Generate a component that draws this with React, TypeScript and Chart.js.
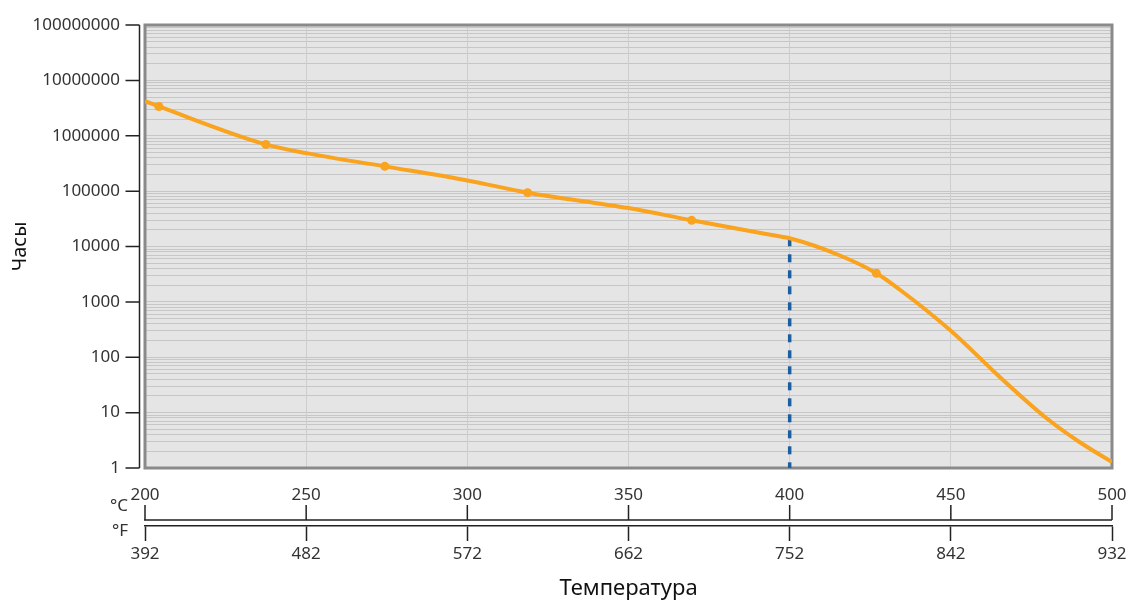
import React, { useEffect, useRef } from 'react';
import { Chart, registerables } from 'chart.js';

Chart.register(...registerables);

// ---- data ----
const curveTempsC = [200, 204.3, 237.5, 250, 274.4, 300, 318.7, 350, 369.6, 391, 400, 415.4, 426.9, 434, 450, 465, 479.6, 489.9, 500];
const curveHours = [4200000, 3380000, 697000, 485000, 280000, 156000, 93800, 49400, 29700, 17500, 14060, 6950, 3290, 1690, 300, 45, 8, 2.95, 1.28];
const markerTempsC = [204.3, 237.5, 274.4, 318.7, 369.6, 426.9];
const markerHours = [3380000, 697000, 280000, 93800, 29700, 3290];
const limitTempC = [400, 400];
const limitHours = [14060, 1];
const celsiusTicks = [200, 250, 300, 350, 400, 450, 500];
const fahrenheitTicks = [392, 482, 572, 662, 752, 842, 932];
const hourDecades = [1, 10, 100, 1000, 10000, 100000, 1000000, 10000000, 100000000];
const yTitle = 'Часы';
const xTitle = 'Температура';
const unitC = '°C';
const unitF = '°F';

const ORANGE = '#f9a31f';
const BLUE = '#1d5e9e';
const FONT = "'Noto Sans', sans-serif";

export default function App() {
  const ref = useRef<HTMLCanvasElement>(null);

  useEffect(() => {
    document.body.style.margin = '0';
    const canvas = ref.current;
    if (!canvas) return;

    const minorValues: number[] = [];
    for (let i = 0; i < hourDecades.length - 1; i++) {
      for (let m = 1; m <= 9; m++) minorValues.push(m * hourDecades[i]);
    }
    minorValues.push(hourDecades[hourDecades.length - 1]);

    const decor = {
      id: 'decor',
      beforeDraw(chart: any) {
        const { ctx, chartArea: a } = chart;
        ctx.save();
        ctx.fillStyle = '#e5e5e5';
        ctx.fillRect(a.left, a.top, a.right - a.left, a.bottom - a.top);
        ctx.restore();
      },
      beforeDatasetsDraw(chart: any) {
        const { ctx, chartArea: a } = chart;
        ctx.save();
        ctx.strokeStyle = '#8a8a8a';
        ctx.lineWidth = 3;
        ctx.strokeRect(a.left, a.top, a.right - a.left, a.bottom - a.top);
        ctx.restore();
      },
      afterDraw(chart: any) {
        const { ctx, chartArea: a, scales } = chart;
        const ys = scales.y;
        const xs = scales.x;
        ctx.save();
        ctx.strokeStyle = '#222';
        ctx.lineWidth = 1.5;
        // y axis line with decade ticks
        const axX = a.left - 5.5;
        ctx.beginPath();
        ctx.moveTo(axX, ys.getPixelForValue(hourDecades[hourDecades.length - 1]));
        ctx.lineTo(axX, ys.getPixelForValue(hourDecades[0]));
        hourDecades.forEach((v) => {
          const py = ys.getPixelForValue(v);
          ctx.moveTo(axX - 14, py);
          ctx.lineTo(axX, py);
        });
        ctx.stroke();
        // celsius axis line with upward ticks
        const cy = xs.bottom - 6;
        ctx.beginPath();
        ctx.moveTo(a.left - 1, cy);
        ctx.lineTo(a.right, cy);
        celsiusTicks.forEach((v) => {
          const px = xs.getPixelForValue(v);
          ctx.moveTo(px, cy);
          ctx.lineTo(px, cy - 15);
        });
        ctx.stroke();
        // unit labels
        ctx.fillStyle = '#333';
        ctx.font = `17px ${FONT}`;
        ctx.textAlign = 'right';
        ctx.textBaseline = 'middle';
        ctx.fillText(unitC, a.left - 17, cy - 14);
        ctx.fillText(unitF, a.left - 17, cy + 11);
        ctx.restore();
      },
    };

    const noSidePad = (s: any) => {
      s.paddingLeft = 0;
      s.paddingRight = 0;
    };

    const chart = new Chart(canvas, {
      type: 'line',
      data: {
        datasets: [
          {
            label: 'markers',
            data: markerTempsC.map((t, i) => ({ x: t, y: markerHours[i] })),
            showLine: false,
            pointRadius: 4.5,
            pointBackgroundColor: ORANGE,
            pointBorderWidth: 0,
            borderColor: ORANGE,
            order: 0,
          },
          {
            label: 'curve',
            data: curveTempsC.map((t, i) => ({ x: t, y: curveHours[i] })),
            borderColor: ORANGE,
            borderWidth: 4,
            pointRadius: 0,
            cubicInterpolationMode: 'monotone',
            order: 1,
          },
          {
            label: 'limit',
            data: limitTempC.map((t, i) => ({ x: t, y: limitHours[i] })),
            borderColor: BLUE,
            borderWidth: 3.5,
            borderDash: [8, 8],
            pointRadius: 0,
            order: 2,
          },
        ],
      },
      options: {
        responsive: false,
        animation: false,
        layout: { padding: { top: 25, right: 14, bottom: 0, left: 0 } },
        plugins: {
          legend: { display: false },
          tooltip: { enabled: false },
        },
        scales: {
          y: {
            type: 'logarithmic',
            position: 'left',
            min: 1,
            max: 100000000,
            afterBuildTicks: (s: any) => {
              s.ticks = minorValues.map((v) => ({ value: v }));
            },
            afterFit: (s: any) => {
              s.width = 145;
              s.paddingTop = 0;
              s.paddingBottom = 0;
            },
            ticks: {
              autoSkip: false,
              padding: 7,
              color: '#333',
              font: { family: FONT, size: 17 },
              callback: (v: any) => (hourDecades.includes(Number(v)) ? String(v) : ''),
            },
            grid: {
              color: '#c6c6c6',
              lineWidth: 1,
              drawTicks: true,
              tickLength: 18,
              tickColor: 'rgba(0,0,0,0)',
            },
            border: { display: false },
            title: {
              display: true,
              text: yTitle,
              color: '#111',
              font: { family: FONT, size: 20 },
              padding: { top: 8, bottom: 0 },
            },
          },
          x: {
            type: 'linear',
            position: 'bottom',
            weight: 0,
            min: 200,
            max: 500,
            afterBuildTicks: (s: any) => {
              s.ticks = celsiusTicks.map((v) => ({ value: v }));
            },
            afterFit: (s: any) => {
              s.height = 58;
              noSidePad(s);
            },
            ticks: {
              autoSkip: false,
              maxRotation: 0,
              padding: 17,
              color: '#333',
              font: { family: FONT, size: 17 },
            },
            grid: { color: '#cdcdcd', lineWidth: 1, drawTicks: false },
            border: { display: false },
          },
          xF: {
            type: 'linear',
            position: 'bottom',
            weight: 1,
            min: 392,
            max: 932,
            afterBuildTicks: (s: any) => {
              s.ticks = fahrenheitTicks.map((v) => ({ value: v }));
            },
            afterFit: (s: any) => {
              s.height = 77;
              noSidePad(s);
            },
            ticks: {
              autoSkip: false,
              maxRotation: 0,
              padding: 3,
              color: '#333',
              font: { family: FONT, size: 17 },
            },
            grid: {
              drawOnChartArea: false,
              drawTicks: true,
              tickLength: 15,
              tickColor: '#222',
              tickWidth: 1.5,
            },
            border: { display: true, color: '#222', width: 1.5 },
            title: {
              display: true,
              text: xTitle,
              color: '#111',
              font: { family: FONT, size: 22 },
              padding: { top: 0, bottom: 1 },
            },
          },
        },
      },
      plugins: [decor],
    } as any);

    return () => chart.destroy();
  }, []);

  return (
    <div style={{ width: 1126, height: 603 }}>
      <canvas ref={ref} width={1126} height={603} style={{ display: 'block' }} />
    </div>
  );
}
